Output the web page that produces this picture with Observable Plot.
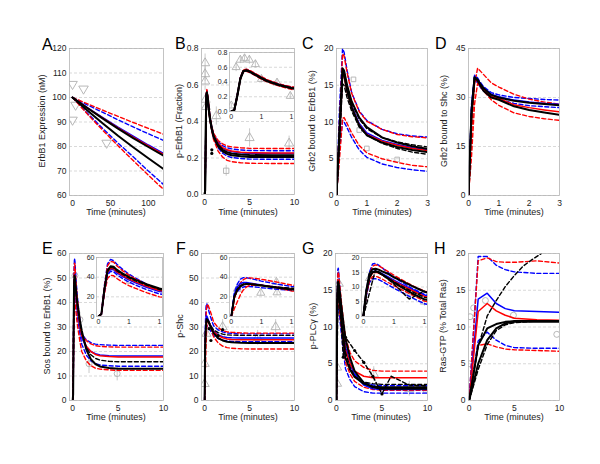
<!DOCTYPE html>
<html><head><meta charset="utf-8">
<script src="https://cdn.jsdelivr.net/npm/d3@7"></script>
<script src="https://cdn.jsdelivr.net/npm/@observablehq/plot@0.6"></script>
<style>
body{margin:0;background:#fff;}
#root{position:relative;width:600px;height:464px;overflow:hidden;background:#fff;}
#root svg{position:absolute;}
</style></head><body><div id="root"></div>
<script>
// ---------------- DATA ----------------
// Panel A: ErbB1 expression (nM)
const timeA = [0, 20, 40, 60, 80, 100, 120];
const seriesA = [
  ["RD1", [100, 97.4, 94.8, 92.3, 89.8, 87.4, 85]],
  ["BD1", [100, 96.9, 93.9, 90.9, 88.0, 85.2, 82.5]],
  ["R",   [100, 95.7, 91.6, 87.6, 83.8, 80.2, 76.8]],
  ["B",   [100, 95.8, 91.8, 87.9, 84.2, 80.6, 77.2]],
  ["K1",  [100, 95.6, 91.4, 87.3, 83.4, 79.8, 76.3]],
  ["K2",  [100, 94.6, 89.4, 84.4, 79.7, 75.2, 70.8]],
  ["BD2", [100, 93.5, 87.3, 81.4, 75.8, 70.0, 64.5]],
  ["RD2", [100, 93.1, 86.6, 80.3, 74.3, 68.3, 62.5]]
];
const markersA = [[0, 105.2], [14.5, 103.3], [0, 90.6], [4, 96.7], [45, 81.2]];

// Panel B: p-ErbB1 (fraction)
const timeB = [0, 0.05, 0.1, 0.15, 0.2, 0.25, 0.3, 0.4, 0.5, 0.6, 0.8, 1, 1.5, 2, 2.5, 3, 4, 5, 7.5, 10];
const seriesB = [
  ["RD1", [0, 0.02, 0.23, 0.46, 0.565, 0.575, 0.56, 0.515, 0.47, 0.43, 0.372, 0.335, 0.296, 0.277, 0.266, 0.261, 0.256, 0.253, 0.252, 0.252]],
  ["BD1", [0, 0.02, 0.23, 0.46, 0.56, 0.57, 0.555, 0.51, 0.465, 0.425, 0.368, 0.33, 0.289, 0.268, 0.256, 0.25, 0.244, 0.241, 0.24, 0.24]],
  ["R",   [0, 0.02, 0.22, 0.45, 0.555, 0.565, 0.55, 0.505, 0.46, 0.42, 0.364, 0.325, 0.281, 0.257, 0.245, 0.238, 0.232, 0.229, 0.228, 0.228]],
  ["B",   [0, 0.02, 0.22, 0.45, 0.55, 0.56, 0.545, 0.5, 0.455, 0.415, 0.362, 0.323, 0.279, 0.254, 0.242, 0.235, 0.229, 0.226, 0.225, 0.225]],
  ["K1",  [0, 0.02, 0.22, 0.45, 0.55, 0.56, 0.545, 0.5, 0.455, 0.415, 0.36, 0.32, 0.271, 0.245, 0.232, 0.225, 0.219, 0.216, 0.215, 0.215]],
  ["K2",  [0, 0.02, 0.21, 0.44, 0.545, 0.555, 0.54, 0.495, 0.45, 0.41, 0.356, 0.315, 0.264, 0.236, 0.222, 0.215, 0.209, 0.206, 0.205, 0.205]],
  ["BD2", [0, 0.02, 0.21, 0.44, 0.54, 0.55, 0.535, 0.49, 0.445, 0.405, 0.352, 0.31, 0.255, 0.226, 0.21, 0.203, 0.197, 0.194, 0.193, 0.193]],
  ["RD2", [0, 0.02, 0.2, 0.43, 0.535, 0.545, 0.53, 0.485, 0.44, 0.4, 0.345, 0.3, 0.238, 0.205, 0.187, 0.18, 0.174, 0.171, 0.17, 0.17]]
];
const markersB = [[0.05, 0.72, 0.05], [0.05, 0.66, 0.04], [0.05, 0.62, 0.05], [0.1, 0.52, 0.04], [0.15, 0.48, 0.05], [1.3, 0.43, 0.05], [5, 0.31, 0.05], [9.4, 0.28, 0.04]];
const squaresB = [[2.4, 0.13, 0.03]];
const dotsB = [[0.8, 0.245], [0.8, 0.225]];
const insetMarkersB = [[0, 0.08, 0.03], [0.08, 0.6, 0.06], [0.15, 0.7, 0.05], [0.22, 0.72, 0.05], [0.3, 0.7, 0.06], [0.4, 0.64, 0.05], [0.5, 0.44, 0.05], [0.76, 0.39, 0.05], [0.98, 0.21, 0.04]];

// Panel C: Grb2 bound to ErbB1 (%)
const timeC = [0, 0.1, 0.2, 0.25, 0.35, 0.5, 0.75, 1, 1.5, 2, 2.5, 3];
const seriesC = [
  ["BD1", [0, 12, 20, 19.5, 17, 14, 11.5, 10.2, 9, 8.4, 8.1, 7.95]],
  ["RD1", [0, 10, 19.3, 19, 16.7, 13.9, 11.4, 10.1, 9, 8.3, 8.0, 7.85]],
  ["B",   [0, 8.5, 16.6, 16.4, 14.3, 12.2, 9.8, 8.5, 7.5, 6.95, 6.5, 6.2]],
  ["R",   [0, 8, 16.4, 16.2, 14.1, 12.0, 9.6, 8.3, 7.4, 6.85, 6.4, 6.1]],
  ["KD1", [0, 8.5, 16.8, 16.6, 14.7, 12.6, 10.4, 9.1, 7.9, 7.3, 6.9, 6.6]],
  ["KD2", [0, 7.5, 15.2, 15, 13.3, 11.5, 9.3, 8.2, 7.1, 6.4, 5.9, 5.6]],
  ["K1",  [0, 9, 17.3, 17, 15, 12.8, 10.6, 9.3, 7.9, 7.2, 6.7, 6.35]],
  ["K2",  [0, 8.5, 16.9, 16.5, 14.2, 12, 9.5, 8.2, 7.2, 6.6, 6.2, 5.9]],
  ["RD2", [0, 5, 10.5, 10.6, 9.8, 8.5, 6.8, 5.8, 5.0, 4.5, 4.1, 3.9]],
  ["BD2", [0, 6, 10.2, 10, 9.2, 7.9, 6.2, 5.2, 4.3, 3.8, 3.5, 3.3]]
];
const markersC = [[0.56, 15.8], [0.75, 8.9], [1, 6.4], [2, 4.9]];

// Panel D: Grb2 bound to Shc (%)
const timeD = [0, 0.1, 0.2, 0.3, 0.4, 0.5, 0.75, 1, 1.5, 2, 2.5, 3];
const seriesD = [
  ["BD1", [0, 28, 36.8, 36, 34.5, 33.3, 31.5, 30.8, 30, 29.7, 29.4, 29.2]],
  ["BD2", [0, 25, 35.5, 34.5, 33, 32, 30.3, 29.5, 28.2, 27.5, 27.2, 26.9]],
  ["RD1", [0, 18, 34, 39, 38, 37, 34.5, 33.2, 31, 29.5, 28.6, 28]],
  ["RD2", [0, 12, 28, 34.3, 33.2, 32, 29.3, 27.6, 25.3, 24.2, 23.5, 23]],
  ["B",   [0, 27, 36.5, 35.5, 34, 33, 31, 30.2, 29.2, 28.6, 28.2, 27.9]],
  ["R",   [0, 24, 35.5, 35, 33.5, 32.3, 30.3, 29.7, 27.8, 26.9, 26.2, 25.6]],
  ["K1",  [0, 26, 36.2, 35.5, 34, 32.8, 30.8, 30, 29, 28.4, 28, 27.6]],
  ["K2",  [0, 25, 36, 35.2, 33.5, 32, 30, 29.3, 27.3, 26.2, 25.4, 24.7]]
];

// Panel E: Sos bound to ErbB1 (%)
const timeE = [0, 0.05, 0.1, 0.15, 0.2, 0.25, 0.3, 0.4, 0.5, 0.6, 0.8, 1, 1.5, 2, 2.5, 3, 4, 5, 7.5, 10];
const seriesE = [
  ["BD1", [0, 2.9, 31.9, 53.4, 58, 56.8, 53.4, 47.8, 43.1, 39.4, 32.6, 27, 24.8, 23.6, 23.0, 22.8, 22.6, 22.5, 22.5, 22.5]],
  ["RD1", [0, 2.8, 30.8, 51.5, 56, 55.4, 51.7, 46.4, 42.1, 38.6, 32.2, 27, 24.4, 23.1, 22.4, 22.1, 21.9, 21.8, 21.8, 21.8]],
  ["BD2", [0, 2.3, 25.3, 42.3, 46, 45.5, 42.6, 38.4, 35, 32.2, 27.1, 23, 18.5, 16.3, 15.1, 14.5, 14.2, 14, 14, 14]],
  ["RD2", [0, 2.1, 23.1, 38.6, 42, 41.5, 38.7, 34.7, 31.4, 28.8, 24, 20, 16.2, 14.2, 13.2, 12.8, 12.5, 12.3, 12.3, 12.3]],
  ["R",   [0, 2.4, 27, 45, 49, 48.5, 45.6, 41.6, 38.2, 35.5, 30.5, 26.5, 22.2, 20, 18.8, 18.3, 18, 17.8, 17.8, 17.8]],
  ["B",   [0, 2.4, 26.4, 44.2, 48, 47.5, 44.6, 40.6, 37.2, 34.5, 29.5, 25.5, 21.9, 20, 19.1, 18.6, 18.3, 18.2, 18.2, 18.2]],
  ["KD1", [0, 2.5, 27.5, 46, 50, 49.5, 46.6, 42.6, 39.2, 36.5, 31.6, 27.5, 21.6, 18.7, 17.2, 16.5, 16.0, 15.8, 15.8, 15.8]],
  ["K1",  [0, 2.5, 28, 46.9, 51, 50.5, 47.6, 43.6, 40.2, 37.5, 32.6, 28.5, 20.8, 16.9, 14.9, 13.9, 13.3, 13.0, 13, 13]]
];
const markersE = [[0.25, 51, 4], [0.8, 33, 3], [1.8, 15, 4], [4.9, 11, 3]];
const insetMarkersE = [[0.5, 36, 3], [0.75, 31, 3]];

// Panel F: p-Shc
const timeF = [0, 0.05, 0.1, 0.15, 0.2, 0.25, 0.3, 0.4, 0.5, 0.6, 0.8, 1, 1.5, 2, 2.5, 3, 4, 5, 7.5, 10];
const seriesF = [
  ["BD1", [0, 24, 33, 38, 39.5, 39.5, 38.8, 37.5, 36, 34.8, 32.5, 30.5, 28.8, 28, 27.6, 27.4, 27.2, 27.2, 27.2, 27.2]],
  ["RD1", [0, 18, 28, 34, 37.5, 39, 39.3, 38.8, 37.8, 36.8, 34.5, 32, 29.8, 28.5, 28, 27.8, 27.6, 27.5, 27.5, 27.5]],
  ["BD2", [0, 20, 25.5, 28.5, 30, 30.5, 30.5, 30, 29.3, 28.7, 27.5, 26.5, 25.3, 24.6, 24.3, 24.1, 24, 24, 24, 24]],
  ["RD2", [0, 8, 15, 22, 27, 30, 31.5, 32, 31.5, 30.7, 28.5, 26, 23.5, 22.2, 21.6, 21.3, 21.1, 21, 21, 21]],
  ["B",   [0, 22, 30, 33.5, 34.5, 34.5, 34, 33, 32, 31, 29.5, 28.3, 26.8, 26, 25.7, 25.6, 25.5, 25.5, 25.5, 25.5]],
  ["R",   [0, 19, 27, 31, 32.5, 33, 33, 32.5, 31.8, 31, 29.5, 28, 26.5, 25.6, 25.1, 24.9, 24.8, 24.8, 24.8, 24.8]],
  ["KD1", [0, 21, 28, 31.5, 33, 33.5, 33.3, 32.6, 31.8, 31, 29.8, 28.8, 27.7, 27.1, 26.8, 26.7, 26.6, 26.6, 26.6, 26.6]],
  ["K1",  [0, 20, 27, 30.5, 32.5, 33, 33, 32.4, 31.5, 30.6, 29, 27.5, 25.5, 24.5, 24, 23.8, 23.6, 23.5, 23.5, 23.5]]
];
const markersF = [[0, 6.8, 0], [0, 15, 0], [0.2, 27.3, 3], [2, 30, 3], [5.9, 25.6, 3], [7.9, 30, 3]];
const dotsF = [[0.5, 29.3], [0.7, 24.5], [1.5, 26.5], [2, 28.9]];
const insetMarkersF = [[0.1, 28, 3], [0.75, 35, 3], [0.49, 24, 3], [0.76, 24.4, 3]];

// Panel G: p-PLCγ (%)
const timeG = [0, 0.05, 0.1, 0.15, 0.2, 0.25, 0.3, 0.4, 0.5, 0.6, 0.8, 1, 1.5, 2, 3, 4, 5, 6, 8, 10];
const seriesG = [
  ["BD1", [0, 9, 15, 17.8, 18, 17.4, 16.6, 15, 13.4, 12, 9.5, 7.5, 5, 3.6, 2.5, 2.1, 2.0, 2.0, 2.0, 2.0]],
  ["RD1", [0, 8, 14, 17, 17.5, 17.2, 16.6, 15.3, 14, 12.8, 10.5, 8.6, 6.5, 5.4, 4.5, 4.1, 4.0, 4.0, 4.0, 4.0]],
  ["RD2", [0, 7.5, 12, 13.5, 13.6, 13.3, 12.8, 11.6, 10.5, 9.4, 7.3, 5.2, 3.6, 2.6, 1.8, 1.5, 1.4, 1.4, 1.4, 1.4]],
  ["BD2", [0, 7, 11.5, 12.8, 12.8, 12.5, 12, 10.8, 9.6, 8.5, 6.3, 4.3, 2.8, 1.9, 1.2, 1.0, 1.0, 1.0, 1.0, 1.0]],
  ["B",   [0, 8.5, 13.5, 15.2, 15.4, 15.1, 14.6, 13.5, 12.3, 11.2, 9.2, 7.3, 5, 3.5, 2.1, 1.6, 1.5, 1.5, 1.5, 1.5]],
  ["R",   [0, 8, 13, 14.8, 15, 14.7, 14.2, 13.1, 12, 10.9, 8.8, 6.8, 5, 4, 3.3, 3.1, 3.1, 3.1, 3.1, 3.1]],
  ["KD1", [0, 8, 13.5, 15, 15.2, 14.8, 14.2, 13, 11.8, 10.6, 8.4, 6.5, 4.5, 3.3, 2.5, 2.3, 2.2, 2.2, 2.2, 2.2]],
  ["K1",  [0, 9, 14.5, 16, 16.2, 15.9, 15.4, 14.5, 13.3, 12.3, 10.3, 8.4, 5.8, 4, 2.4, 1.8, 1.6, 1.6, 1.6, 1.6]],
  ["K2",  [0, 8.5, 13.2, 15, 15.3, 15, 14.4, 13, 11.5, 10.2, 7.8, 5.8, 4.2, 3.2, 2.3, 1.9, 1.8, 1.8, 1.8, 1.8]]
];
const timeGdata = [0, 0.2, 0.5, 0.75, 1, 2, 3, 4, 5, 6, 8, 10];
const dataG = [0, 16, 11, 5.9, 8.6, 6.8, 5.2, 3.3, 0.9, 3.3, 2.1, 2.0];
const markersG = [[0.26, 15.9, 2], [0.07, 4.5, 2], [0.07, 2.3, 1], [4.1, 3.6, 1], [8, 1.6, 1], [10, 1.5, 1]];
const insetMarkersG = [[0.1, 13, 2], [0.5, 11, 2], [0.75, 8, 2], [1, 5, 1.5]];

// Panel H: Ras-GTP (% Total Ras)
const timeH = [0, 1, 2, 3, 4, 5, 7.5, 10];
const seriesH = [
  ["BD1", [0, 19.6, 19.6, 18.4, 17.8, 17.5, 17.3, 17.3]],
  ["RD1", [0, 19.0, 19.4, 18.9, 18.8, 18.8, 19.0, 18.7]],
  ["BD2", [0, 8.1, 9.3, 8.2, 7.5, 7.2, 7.1, 7.1]],
  ["RD2", [0, 7.5, 7.7, 7.3, 7.0, 6.9, 6.8, 6.7]],
  ["B",   [0, 13.8, 14.6, 13.2, 12.5, 12.2, 12.1, 12.0]],
  ["R",   [0, 12.1, 13.2, 12.2, 11.6, 11.2, 11.0, 10.9]],
  ["KD2", [0, 4.2, 7.6, 9.5, 10.3, 10.6, 10.8, 10.8]],
  ["K1",  [0, 7.5, 9.8, 10.4, 10.7, 10.8, 10.8, 10.8]],
  ["K2",  [0, 5.0, 8.2, 9.8, 10.5, 10.7, 10.7, 10.7]]
];
const timeHKD = [0, 1, 2, 3, 4, 5, 6, 7, 8];
const valuesHKD = [0, 7.3, 11.5, 13.6, 15.5, 17, 18.3, 19.2, 20];
const markersH = [[0, 5], [0.1, 11.4], [0.5, 12.6], [1.8, 13.6], [4.9, 11.6], [9.7, 9.0]];

// ---------------- DRAWING ----------------
const FONT = "Liberation Sans, Arial, Helvetica, sans-serif";
const STYLE = {
  K:  {stroke: "#000000", w: 2.0, dash: null},
  KD: {stroke: "#000000", w: 1.4, dash: "4,2.5"},
  R:  {stroke: "#ff0000", w: 1.5, dash: null},
  RD: {stroke: "#ff0000", w: 1.4, dash: "4,2.5"},
  B:  {stroke: "#0000ff", w: 1.5, dash: null},
  BD: {stroke: "#0000ff", w: 1.4, dash: "4,2.5"}
};
const ORDER = ["BD", "RD", "B", "R", "KD", "K"];
const kind = id => id.replace(/\d+$/, "");
const root = document.getElementById("root");

const triDown = {draw(c, s) { const h = Math.sqrt(s) * 0.75; c.moveTo(-h, -h * 0.7); c.lineTo(h, -h * 0.7); c.lineTo(0, h * 1.0); c.closePath(); }};

function lineMarks(times, series, xmax) {
  const sorted = [...series].sort((a, b) => ORDER.indexOf(kind(a[0])) - ORDER.indexOf(kind(b[0])));
  return sorted.map(([id, vals, tt]) => {
    const ts = tt || times;
    const rows = ts.map((t, i) => ({t, v: vals[i]})).filter(d => xmax == null || d.t <= xmax);
    const s = STYLE[kind(id)];
    const o = {x: "t", y: "v", stroke: s.stroke, strokeWidth: s.w, clip: true};
    if (s.dash) o.strokeDasharray = s.dash;
    return Plot.line(rows, o);
  });
}
function markerMarks(list, symbol, r = 3, xmax) {
  const rows = list.filter(d => xmax == null || d[0] <= xmax).map(([t, v, e = 0]) => ({t, v, e}));
  return [
    Plot.ruleX(rows.filter(d => d.e > 0), {x: "t", y1: d => d.v - d.e, y2: d => d.v + d.e, stroke: "#bdbdbd", strokeWidth: 0.8, clip: true}),
    Plot.dot(rows, {x: "t", y: "v", symbol, r, stroke: "#b0b0b0", strokeWidth: 0.9, fill: "none", clip: true})
  ];
}
function blackDots(list) {
  return Plot.dot(list.map(([t, v]) => ({t, v})), {x: "t", y: "v", r: 1.6, fill: "#000", clip: true});
}

function panel(cfg) {
  const {fx0, fx1, fy0, fy1, xDomain, yDomain, xTicks, yTicks, fs = 8.5, inset = false, content = []} = cfg;
  const mL = inset ? 20 : 34, mR = 3, mT = 4, mB = inset ? 12 : 16;
  const marks = [];
  if (inset) marks.push(Plot.frame({fill: "white", stroke: null}));
  marks.push(Plot.gridY(yTicks, {stroke: "#cfcfcf", strokeOpacity: 1, strokeDasharray: "3,2", strokeWidth: 0.8}));
  marks.push(...content);
  marks.push(Plot.frame({stroke: "#b5b5b5", strokeWidth: 0.8}));
  marks.push(Plot.axisX(xTicks, {tickSize: 0, tickPadding: inset ? 3 : 4, fontSize: fs, fill: "#222", label: null}));
  marks.push(Plot.axisY(yTicks, {tickSize: 0, tickPadding: inset ? 2 : 3, fontSize: fs, fill: "#222", label: null}));
  const svg = Plot.plot({
    width: (fx1 - fx0) + mL + mR, height: (fy1 - fy0) + mT + mB,
    marginLeft: mL, marginRight: mR, marginTop: mT, marginBottom: mB,
    x: {domain: xDomain}, y: {domain: yDomain},
    style: {background: "transparent", overflow: "visible", fontFamily: FONT},
    marks
  });
  svg.style.left = (fx0 - mL) + "px";
  svg.style.top = (fy0 - mT) + "px";
  root.appendChild(svg);
}

// Row 1
panel({fx0: 69, fx1: 163, fy0: 48, fy1: 195, xDomain: [-4, 120], yDomain: [60, 120],
  xTicks: [0, 50, 100], yTicks: [60, 70, 80, 90, 100, 110, 120],
  content: [...markerMarks(markersA, triDown, 3.6), ...lineMarks(timeA, seriesA)]});
panel({fx0: 201, fx1: 294, fy0: 48, fy1: 194, xDomain: [-0.35, 10], yDomain: [0, 0.8],
  xTicks: [0, 5, 10], yTicks: [0, 0.2, 0.4, 0.6, 0.8],
  content: [...markerMarks(markersB, "triangle", 3.4), ...markerMarks(squaresB, "square", 3), ...lineMarks(timeB, seriesB), blackDots(dotsB)]});
panel({fx0: 336, fx1: 427, fy0: 48, fy1: 195, xDomain: [0, 3], yDomain: [0, 20],
  xTicks: [0, 1, 2, 3], yTicks: [0, 5, 10, 15, 20],
  content: [...markerMarks(markersC, "square", 2.6), ...lineMarks(timeC, seriesC)]});
panel({fx0: 468, fx1: 559, fy0: 48, fy1: 195, xDomain: [0, 3], yDomain: [0, 45],
  xTicks: [0, 1, 2, 3], yTicks: [0, 15, 30, 45],
  content: [...lineMarks(timeD, seriesD)]});

// Row 2
panel({fx0: 69, fx1: 163, fy0: 253, fy1: 400, xDomain: [-0.35, 10], yDomain: [0, 60],
  xTicks: [0, 5, 10], yTicks: [0, 10, 20, 30, 40, 50, 60],
  content: [...markerMarks(markersE, "circle", 3), ...lineMarks(timeE, seriesE)]});
panel({fx0: 201, fx1: 294, fy0: 253, fy1: 400, xDomain: [-0.35, 10], yDomain: [0, 60],
  xTicks: [0, 5, 10], yTicks: [0, 10, 20, 30, 40, 50, 60],
  content: [...markerMarks(markersF, "triangle", 3.4), ...lineMarks(timeF, seriesF), blackDots(dotsF)]});
panel({fx0: 335, fx1: 427, fy0: 253, fy1: 400, xDomain: [-0.1, 10], yDomain: [0, 20],
  xTicks: [0, 5, 10], yTicks: [0, 5, 10, 15, 20],
  content: [...markerMarks(markersG, "triangle", 3.4), ...lineMarks(timeG, seriesG),
    ...lineMarks(timeGdata, [["KD9", dataG]]), blackDots(timeGdata.slice(3, 9).map((t, i) => [t, dataG[i + 3]]))]});
panel({fx0: 468, fx1: 559, fy0: 253, fy1: 400, xDomain: [-0.07, 10], yDomain: [0, 20],
  xTicks: [0, 5, 10], yTicks: [0, 5, 10, 15, 20],
  content: [...markerMarks(markersH, "circle", 3), ...lineMarks(timeH, seriesH), ...lineMarks(timeHKD, [["KD9", valuesHKD]])]});

// Insets (0–1 min)
panel({inset: true, fs: 7, fx0: 229, fx1: 294, fy0: 52, fy1: 111, xDomain: [-0.03, 1.05], yDomain: [0, 0.8],
  xTicks: [0, 0.5, 1], yTicks: [0, 0.2, 0.4, 0.6, 0.8],
  content: [...markerMarks(insetMarkersB, "triangle", 3), ...lineMarks(timeB, seriesB, 1.5)]});
panel({inset: true, fs: 7, fx0: 96, fx1: 162, fy0: 257, fy1: 316, xDomain: [-0.03, 1.05], yDomain: [0, 60],
  xTicks: [0, 0.5, 1], yTicks: [0, 20, 40, 60],
  content: [...markerMarks(insetMarkersE, "circle", 2.6), ...lineMarks(timeE, seriesE, 1.5)]});
panel({inset: true, fs: 7, fx0: 229, fx1: 294, fy0: 257, fy1: 316, xDomain: [-0.03, 1.05], yDomain: [0, 60],
  xTicks: [0, 0.5, 1], yTicks: [0, 20, 40, 60],
  content: [...markerMarks(insetMarkersF, "triangle", 3), ...lineMarks(timeF, seriesF, 1.5)]});
panel({inset: true, fs: 7, fx0: 361, fx1: 427, fy0: 257, fy1: 316, xDomain: [-0.03, 1.05], yDomain: [0, 20],
  xTicks: [0, 0.5, 1], yTicks: [0, 5, 10, 15, 20],
  content: [...markerMarks(insetMarkersG, "triangle", 3), ...lineMarks(timeG, seriesG, 1.5), ...lineMarks(timeGdata, [["KD9", dataG]], 1.5)]});

// Text overlay: panel letters and axis titles
const letters = [["A", 42, 50], ["B", 175, 49], ["C", 302, 49], ["D", 435, 49], ["E", 42, 254], ["F", 176, 254], ["G", 302, 254], ["H", 434, 254]];
const yTitles = [["ErbB1 Expression (nM)", 42, 121], ["p-ErbB1 (Fraction)", 179, 121], ["Grb2 bound to ErbB1 (%)", 312, 121], ["Grb2 bound to Shc (%)", 444, 121],
                 ["Sos bound to ErbB1 (%)", 47, 326], ["p-Shc", 180, 326], ["p-PLCγ (%)", 313, 326], ["Ras-GTP (% Total Ras)", 443, 326]];
const xTitles = [[116, 215], [248, 215], [382, 215], [514, 215], [116, 420], [248, 420], [381, 420], [514, 420]];
const ov = d3.create("svg").attr("width", 600).attr("height", 464).style("left", "0px").style("top", "0px")
  .style("font-family", FONT).style("pointer-events", "none");
ov.selectAll("text.l").data(letters).join("text").attr("class", "l")
  .attr("x", d => d[1]).attr("y", d => d[2]).attr("font-size", 16).attr("fill", "#000").text(d => d[0]);
ov.selectAll("text.y").data(yTitles).join("text").attr("class", "y")
  .attr("transform", d => `translate(${d[1]},${d[2]}) rotate(-90)`).attr("dy", "0.35em")
  .attr("text-anchor", "middle").attr("font-size", 9).attr("fill", "#222").text(d => d[0]);
ov.selectAll("text.x").data(xTitles).join("text").attr("class", "x")
  .attr("x", d => d[0]).attr("y", d => d[1]).attr("text-anchor", "middle").attr("font-size", 9).attr("fill", "#222").text("Time (minutes)");
root.appendChild(ov.node());
</script></body></html>
